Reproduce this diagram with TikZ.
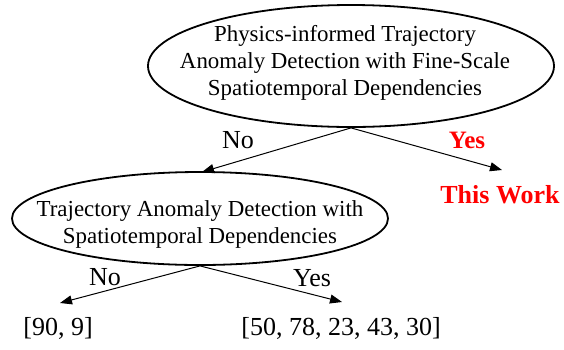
\documentclass[tikz,border=0pt]{standalone}
\usepackage{fontspec}
\setmainfont{Liberation Serif}
\usetikzlibrary{shapes.geometric,arrows.meta}
\definecolor{yesred}{RGB}{255,0,0}
\tikzset{
  decision/.style={ellipse,draw,line width=1.8pt,inner sep=0pt},
  dtext/.style={align=center,inner sep=0pt,font=\fontsize{22.9}{27}\selectfont},
  conn/.style={line width=1pt,-{Triangle[length=12pt,width=9pt]}},
  lbl/.style={font=\fontsize{26}{29}\selectfont,inner sep=0pt},
  redlbl/.style={font=\fontsize{25}{28}\selectfont\bfseries,text=yesred,inner sep=0pt},
}
\begin{document}
\begin{tikzpicture}[x=1pt,y=-1pt]
\useasboundingbox (0,0) rectangle (564,349);
\node[decision,minimum width=406pt,minimum height=122pt] (topE) at (351,66) {};
\node[dtext] (topT) at (345,63)
  {Physics-informed Trajectory\\Anomaly Detection with Fine-Scale\\Spatiotemporal Dependencies};
\node[decision,minimum width=376pt,minimum height=93pt] (midE) at (200,218.5) {};
\node[dtext] (midT) at (200,224)
  {Trajectory Anomaly Detection with\\Spatiotemporal Dependencies};
\node[redlbl,font=\fontsize{26}{30}\selectfont\bfseries,anchor=base] (work) at (500,203) {This Work};
\node[lbl,anchor=base] (r1) at (58,335) {[90, 9]};
\node[lbl,anchor=base] (r2) at (341,335) {[50, 78, 23, 43, 30]};
\coordinate (tNo) at (202,172);
\coordinate (tYes) at (502,170);
\coordinate (mNo) at (60,303);
\coordinate (mYes) at (342,302);
\draw[conn] (topE.south) -- (tNo);
\draw[conn] (topE.south) -- (tYes);
\draw[conn] (midE.south) -- (mNo);
\draw[conn] (midE.south) -- (mYes);
\node[lbl] (noTop) at (238,140) {No};
\node[redlbl] (yesTop) at (467,140) {Yes};
\node[lbl] (noMid) at (105,277) {No};
\node[lbl] (yesMid) at (312,278) {Yes};
\end{tikzpicture}
\end{document}
